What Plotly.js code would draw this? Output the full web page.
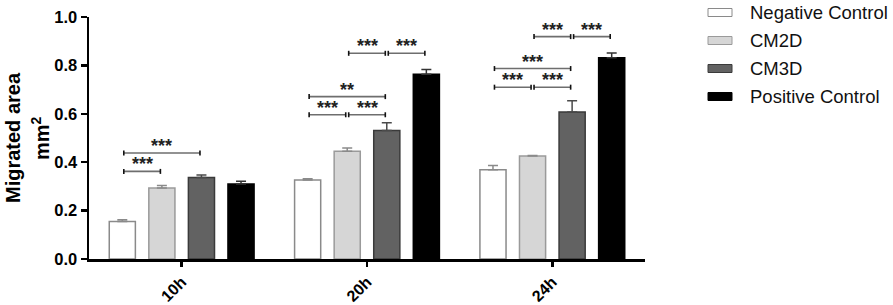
<!DOCTYPE html>
<html>
<head>
<meta charset="utf-8">
<script src="https://cdn.plot.ly/plotly-3.0.1.min.js"></script>
<style>html,body{margin:0;padding:0;background:#fff;}#chart{width:893px;height:305px;}</style>
</head>
<body>
<div id="chart"></div>
<script>
// ---- data ----
const categories = ['10h', '20h', '24h'];
const seriesNames = ['Negative Control', 'CM2D', 'CM3D', 'Positive Control'];
const negativeControl = [0.155, 0.326, 0.369];
const cm2d = [0.293, 0.445, 0.426];
const cm3d = [0.337, 0.531, 0.607];
const positiveControl = [0.310, 0.763, 0.832];
const negativeControlErr = [0.007, 0.006, 0.017];
const cm2dErr = [0.011, 0.014, 0.002];
const cm3dErr = [0.010, 0.032, 0.047];
const positiveControlErr = [0.011, 0.020, 0.019];
const yTickValues = [0.0, 0.2, 0.4, 0.6, 0.8, 1.0];
const yTitleLines = ['Migrated area', 'mm<sup>2</sup>'];
// significance brackets
const sigCategory = ['10h','10h','20h','20h','20h','20h','20h','24h','24h','24h','24h','24h'];
const sigFrom = [0, 0, 0, 1, 0, 1, 2, 0, 1, 0, 1, 2];
const sigTo = [1, 2, 1, 2, 2, 2, 3, 1, 2, 2, 2, 3];
const sigLevel = [0.362, 0.438, 0.596, 0.596, 0.671, 0.850, 0.850, 0.710, 0.710, 0.787, 0.919, 0.919];
const sigLabel = ['***','***','***','***','**','***','***','***','***','***','***','***'];

// ---- styles ----
const FONT = 'Liberation Sans, Arial, sans-serif';
const fills = ['#ffffff', '#d6d6d6', '#626262', '#000000'];
const outlines = ['#8a8a8a', '#9a9a9a', '#3a3a3a', '#000000'];
const errColors = ['#8a8a8a', '#8a8a8a', '#4a4a4a', '#333333'];
const values = [negativeControl, cm2d, cm3d, positiveControl];
const errs = [negativeControlErr, cm2dErr, cm3dErr, positiveControlErr];

const BARGAP = 0.146, GROUPGAP = 0.34;
const slot = (1 - BARGAP) / seriesNames.length;

const traces = seriesNames.map((name, i) => ({
  type: 'bar',
  name: name,
  x: categories,
  y: values[i],
  marker: {color: fills[i], line: {color: outlines[i], width: 1.5}},
  error_y: {type: 'data', array: errs[i], arrayminus: errs[i].map(() => 0), symmetric: false,
            color: errColors[i], thickness: 1.5, width: 5},
  showlegend: false,
  hoverinfo: 'x+y+name'
}));

// margins / pixel helpers
const M = {l: 89, r: 248, t: 17, b: 46};
const W = 893, H = 305;
const PW = W - M.l - M.r, PH = H - M.t - M.b;
const pxToPaperX = px => (px - M.l) / PW;
const pxToPaperY = py => (H - M.b - py) / PH;

const shapes = [];
const annotations = [];
const tickHalf = 2.5 / PH;     // half-height of bracket end ticks (in y units, range 0..1)
const inset = 0.008;
sigCategory.forEach((c, k) => {
  const ci = categories.indexOf(c);
  const x0 = ci + (sigFrom[k] - 1.5) * slot + inset;
  const x1 = ci + (sigTo[k] - 1.5) * slot - inset;
  const y = sigLevel[k];
  shapes.push({type: 'line', xref: 'x', yref: 'y', x0: x0, x1: x1, y0: y, y1: y,
               line: {color: '#6e6e6e', width: 1.6}});
  [x0, x1].forEach(xx => shapes.push({type: 'line', xref: 'x', yref: 'y', x0: xx, x1: xx,
               y0: y - tickHalf, y1: y + tickHalf, line: {color: '#111', width: 1.6}}));
  annotations.push({xref: 'x', yref: 'y', x: (x0 + x1) / 2, y: y, text: sigLabel[k],
               showarrow: false, yanchor: 'bottom', yshift: -5,
               font: {family: FONT, size: 18, weight: 'bold', color: '#222'}});
});

// y-axis title (two rotated lines)
const titleX = [13, 40];
yTitleLines.forEach((t, i) => {
  annotations.push({xref: 'paper', yref: 'paper', x: pxToPaperX(titleX[i]), y: pxToPaperY(138),
               xanchor: 'center', yanchor: 'middle', textangle: -90, showarrow: false, text: t,
               font: {family: FONT, size: 20, weight: 'bold', color: '#000'}});
});

// manual legend
const legendCenters = [12.5, 40.5, 68.5, 96.5];
seriesNames.forEach((name, i) => {
  const cy = legendCenters[i];
  shapes.push({type: 'rect', xref: 'paper', yref: 'paper',
               x0: pxToPaperX(708), x1: pxToPaperX(732), y0: pxToPaperY(cy + 4), y1: pxToPaperY(cy - 4),
               fillcolor: fills[i], line: {color: outlines[i], width: 1}});
  annotations.push({xref: 'paper', yref: 'paper', x: pxToPaperX(748), y: pxToPaperY(cy),
               xanchor: 'left', yanchor: 'middle', showarrow: false, text: name,
               font: {family: FONT, size: 18.5, color: '#111'}});
});

const layout = {
  width: W, height: H,
  margin: M,
  paper_bgcolor: '#fff', plot_bgcolor: '#fff',
  barmode: 'group', bargap: BARGAP, bargroupgap: GROUPGAP,
  showlegend: false,
  font: {family: FONT, color: '#000'},
  xaxis: {type: 'category', range: [-0.5, 2.5], showline: true, linecolor: '#000', linewidth: 2.5,
          ticks: 'outside', ticklen: 5, tickwidth: 2.5, tickcolor: '#000', tickangle: -45,
          showgrid: false, zeroline: false,
          tickfont: {family: FONT, size: 16, weight: 'bold', color: '#000'}},
  yaxis: {range: [0, 1], tickvals: yTickValues, tickformat: '.1f', showline: true, linecolor: '#000',
          linewidth: 2.5, ticks: 'outside', ticklen: 6, tickwidth: 2.5, tickcolor: '#000',
          showgrid: false, zeroline: false,
          tickfont: {family: FONT, size: 16.5, weight: 'bold', color: '#000'}},
  shapes: shapes,
  annotations: annotations
};

Plotly.newPlot('chart', traces, layout, {displayModeBar: false, staticPlot: true});
</script>
</body>
</html>
